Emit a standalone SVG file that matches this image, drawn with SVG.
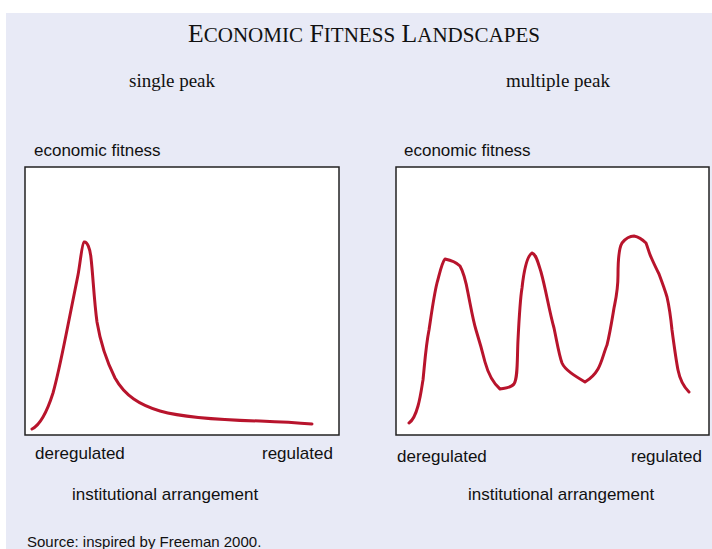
<svg xmlns="http://www.w3.org/2000/svg" width="712" height="549" viewBox="0 0 712 549">
<style>
.serif{font-family:"Liberation Serif","Times New Roman",serif;fill:#111}
.sans{font-family:"Liberation Sans",Arial,sans-serif;font-size:17px;fill:#111}
.box{fill:#fff;stroke:#222;stroke-width:1.5}
.curve{fill:none;stroke:#b8142c;stroke-width:3;stroke-linecap:round;stroke-linejoin:round}
</style>
<rect x="0" y="0" width="712" height="549" fill="#fff"/>
<rect x="6" y="13" width="706" height="536" fill="#e8eaf6"/>
<text class="serif" x="188" y="42" font-size="25" textLength="352" lengthAdjust="spacingAndGlyphs">E<tspan font-size="20.5">CONOMIC</tspan> F<tspan font-size="20.5">ITNESS</tspan> L<tspan font-size="20.5">ANDSCAPES</tspan></text>
<g id="left-panel">
<text class="serif" x="129" y="87" font-size="19">single peak</text>
<text class="sans" x="34" y="156">economic fitness</text>
<rect class="box" x="25" y="167" width="314" height="268"/>
<path class="curve" d="M32,429 C40,425 47,412 53,393 C58,375 62,355 66,335 C70,315 74,295 78,275 C80,265 82,243 84,242 C87,241 90,248 91,258 C93,275 94,300 97,322 C100,340 106,360 115,378 C125,396 140,405 160,411 C185,418 220,420 260,421 C285,422 300,423 312,424"/>
<text class="sans" x="35" y="459">deregulated</text>
<text class="sans" x="262" y="459">regulated</text>
<text class="sans" x="72" y="500">institutional arrangement</text>
</g>
<g id="right-panel">
<text class="serif" x="506" y="87" font-size="19">multiple peak</text>
<text class="sans" x="404" y="156">economic fitness</text>
<rect class="box" x="396" y="167" width="313" height="268"/>
<path class="curve" d="M409,423 C412,421 415,417 418,406 C421,395 422,385 423,380 C425,360 426,345 429,330 C432,310 434,295 437,283 C440,272 442,262 445,259 C450,260 455,261 460,266 C464,273 466,282 468,293 C471,308 473,320 476,330 C480,343 482,350 485,362 C488,373 492,382 500,389 C505,388 511,388 514,384 C518,378 517,360 518,340 C519,320 520,300 522,288 C524,270 527,256 532,253 C536,254 538,262 541,272 C546,290 549,310 554,328 C557,342 559,355 562,363 C565,370 575,376 585,382 C590,379 594,376 598,369 C602,362 604,352 607,345 C610,333 612,320 614,308 C616,298 618,290 618,275 C618,260 619,248 622,243 C626,238 630,236 634,236 C639,237 643,240 646,243 C648,248 649,253 651,257 C654,264 656,268 659,274 C662,282 665,290 667,297 C670,310 671,320 672,330 C674,345 676,360 678,370 C680,380 684,387 689,392"/>
<text class="sans" x="397" y="462">deregulated</text>
<text class="sans" x="631" y="462">regulated</text>
<text class="sans" x="468" y="500">institutional arrangement</text>
</g>
<text class="sans" x="27" y="547" style="font-size:15px">Source: inspired by Freeman 2000.</text>
</svg>
